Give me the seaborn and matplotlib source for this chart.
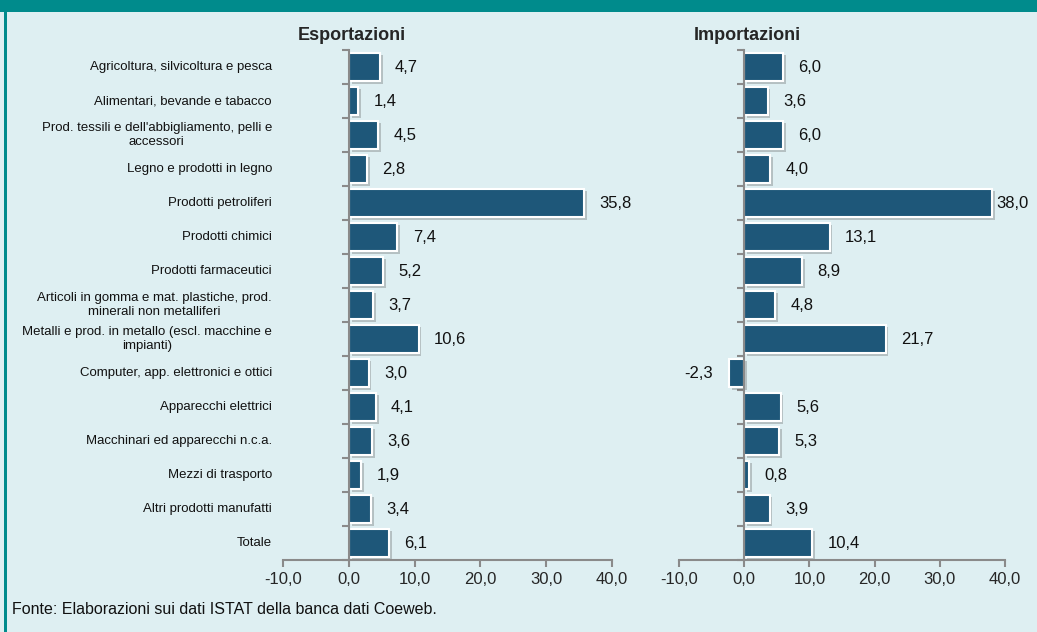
import matplotlib
matplotlib.use("Agg")
import matplotlib.pyplot as plt
import matplotlib.patheffects as pe
from matplotlib.patches import Rectangle
import matplotlib.transforms as mtransforms
import pandas as pd
import seaborn as sns

# data
categories = [
    "Agricoltura, silvicoltura e pesca",
    "Alimentari, bevande e tabacco",
    "Prod. tessili e dell'abbigliamento, pelli e\naccessori",
    "Legno e prodotti in legno",
    "Prodotti petroliferi",
    "Prodotti chimici",
    "Prodotti farmaceutici",
    "Articoli in gomma e mat. plastiche, prod.\nminerali non metalliferi",
    "Metalli e prod. in metallo (escl. macchine e\nimpianti)",
    "Computer, app. elettronici e ottici",
    "Apparecchi elettrici",
    "Macchinari ed apparecchi n.c.a.",
    "Mezzi di trasporto",
    "Altri prodotti manufatti",
    "Totale",
]
esportazioni = [4.7, 1.4, 4.5, 2.8, 35.8, 7.4, 5.2, 3.7, 10.6, 3.0, 4.1, 3.6, 1.9, 3.4, 6.1]
importazioni = [6.0, 3.6, 6.0, 4.0, 38.0, 13.1, 8.9, 4.8, 21.7, -2.3, 5.6, 5.3, 0.8, 3.9, 10.4]
xticks = [-10, 0, 10, 20, 30, 40]

df = pd.DataFrame({"Settore": categories, "Esportazioni": esportazioni, "Importazioni": importazioni})

sns.set_style("white")
plt.rcParams["font.family"] = ["Liberation Sans", "DejaVu Sans"]

bg = "#deeff2"
teal = "#008b8c"
bar_color = "#1e5779"
axis_grey = "#8a8a8a"

W, H = 1037, 632
fig = plt.figure(figsize=(W / 100, H / 100), dpi=100, facecolor=bg)

# top band and left border
fig.patches.append(Rectangle((0, 1 - 12 / H), 1, 12 / H, transform=fig.transFigure,
                             facecolor=teal, edgecolor="none", zorder=0))
fig.patches.append(Rectangle((4 / W, 0), 2.5 / W, 1 - 12 / H, transform=fig.transFigure,
                             facecolor=teal, edgecolor="none", zorder=0))


def panel(left_px, right_px, col, show_labels):
    ax = fig.add_axes([left_px / W, (H - 560) / H, (right_px - left_px) / W, 510 / H])
    ax.set_facecolor("none")
    sns.barplot(data=df, y="Settore", x=col, orient="h", color=bar_color,
                width=0.85, edgecolor="white", linewidth=1.5, saturation=1, ax=ax)
    for p in ax.patches:
        p.set_path_effects([pe.SimplePatchShadow(offset=(2, -2), shadow_rgbFace="#555555", alpha=0.3),
                            pe.Normal()])
    ax.set_xlim(-10, 40)
    ax.set_ylim(len(categories) - 0.5, -0.5)
    ax.set_xlabel("")
    ax.set_ylabel("")

    # spines
    for s in ["top", "right"]:
        ax.spines[s].set_visible(False)
    ax.spines["left"].set_position(("data", 0))
    for s in ["left", "bottom"]:
        ax.spines[s].set_color(axis_grey)
        ax.spines[s].set_linewidth(1.5)

    ax.set_xticks(xticks)
    ax.set_xticklabels([f"{v:.1f}".replace(".", ",") for v in xticks], fontsize=12)
    ax.tick_params(axis="x", bottom=True, direction="out", length=5, width=1.5,
                   color=axis_grey, pad=4)

    ax.set_yticks(range(len(categories)))
    ax.set_yticklabels([])
    ax.tick_params(axis="y", which="major", left=False, length=0)
    ax.set_yticks([i - 0.5 for i in range(len(categories) + 1)], minor=True)
    ax.tick_params(axis="y", which="minor", left=True, direction="out", length=5, width=1.5,
                   color=axis_grey)

    # value labels (pulled in when the bar nearly reaches the axis end)
    for i, v in enumerate(df[col]):
        txt = f"{v:.1f}".replace(".", ",")
        if v >= 0:
            off = 3 if v > 37 else 11
            ax.annotate(txt, (v, i), xytext=(off, 0), textcoords="offset points",
                        ha="left", va="center", fontsize=12, color="#111111")
        else:
            ax.annotate(txt, (v, i), xytext=(-12, 0), textcoords="offset points",
                        ha="right", va="center", fontsize=12, color="#111111")

    # category labels
    if show_labels:
        trans = mtransforms.blended_transform_factory(ax.transAxes, ax.transData)
        for i, name in enumerate(categories):
            ax.text(-11 / (right_px - left_px), i, name, transform=trans, ha="right",
                    va="center", multialignment="center", fontsize=9.5, color="#111111")

    ax.text(0.5, -0.5, col, ha="center", va="bottom", fontsize=13, fontweight="bold",
            transform=ax.transData + mtransforms.ScaledTranslation(0, 6 / 100, fig.dpi_scale_trans))
    return ax


panel(283, 612, "Esportazioni", True)
panel(679, 1005, "Importazioni", False)

fig.text(12 / W, 1 - 610 / H, "Fonte: Elaborazioni sui dati ISTAT della banca dati Coeweb.",
         ha="left", va="center", fontsize=11.5, color="#111111")

fig.savefig("out.png", dpi=100, facecolor=bg)
